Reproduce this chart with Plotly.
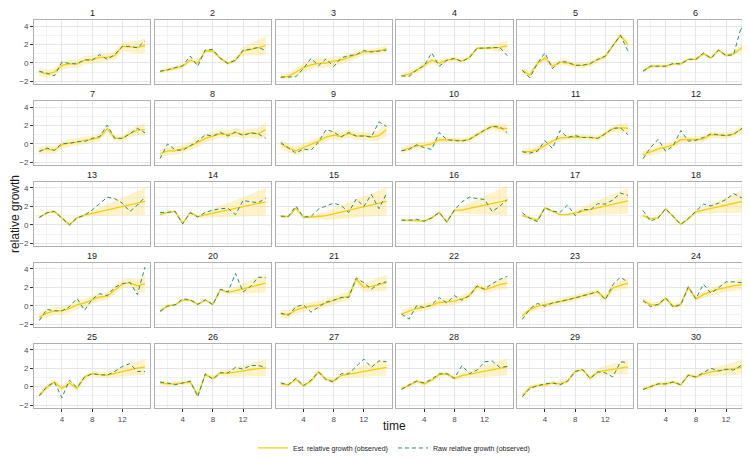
import plotly.graph_objects as go
from plotly.subplots import make_subplots

time = list(range(1, 16))

est_01 = [-0.95,-1.2,-1.0,-0.25,-0.1,-0.1,0.3,0.35,0.6,0.6,0.8,1.8,1.75,1.7,1.9]
raw_01 = [-0.9,-1.1,-1.4,0.1,-0.05,-0.1,0.35,0.3,0.9,0.4,0.9,1.8,1.8,1.65,2.4]
hw_01 = [0.45,0.45,0.45,0.45,0.45,0.45,0.45,0.45,0.45,0.45,0.45,0.5,0.55,0.7,0.8]

est_02 = [-0.9,-0.75,-0.55,-0.35,0.3,0.0,1.3,1.3,0.5,-0.05,0.3,1.3,1.45,1.65,1.9]
raw_02 = [-0.9,-0.75,-0.5,-0.3,0.75,-0.35,1.45,1.45,0.5,-0.05,0.3,1.4,1.5,1.7,1.35]
hw_02 = [0.25,0.25,0.25,0.25,0.25,0.2,0.2,0.2,0.2,0.2,0.25,0.45,0.65,0.85,1.0]

est_03 = [-1.5,-1.45,-1.0,-0.5,-0.2,-0.05,0.0,0.2,0.3,0.6,0.85,1.2,1.25,1.3,1.55]
raw_03 = [-1.55,-1.5,-1.5,-0.6,0.5,-0.3,0.45,-0.4,0.55,0.8,0.9,1.35,1.2,1.3,1.4]
hw_03 = [0.3,0.35,0.45,0.5,0.5,0.5,0.5,0.5,0.45,0.4,0.35,0.3,0.3,0.35,0.4]

est_04 = [-1.4,-1.2,-0.8,-0.25,0.3,0.0,0.3,0.45,0.2,0.6,1.6,1.6,1.65,1.7,1.85]
raw_04 = [-1.4,-1.45,-0.75,-0.3,1.1,-0.35,0.3,0.5,0.15,0.6,1.6,1.6,1.65,1.7,0.8]
hw_04 = [0.25,0.3,0.35,0.35,0.35,0.35,0.3,0.25,0.25,0.25,0.2,0.2,0.3,0.5,0.6]

est_05 = [-0.8,-1.3,-0.05,0.55,-0.35,0.1,0.0,-0.25,-0.25,-0.1,0.35,0.7,1.85,3.0,2.0]
raw_05 = [-0.8,-1.6,-0.05,1.1,-0.6,0.15,0.1,-0.25,-0.25,-0.05,0.4,0.75,1.9,3.0,1.3]
hw_05 = [0.35,0.35,0.3,0.3,0.3,0.3,0.3,0.3,0.3,0.3,0.3,0.3,0.3,0.3,0.4]

est_06 = [-0.9,-0.35,-0.35,-0.35,-0.1,-0.1,0.4,0.4,1.0,0.55,1.4,0.8,1.0,1.6,2.0]
raw_06 = [-0.9,-0.35,-0.35,-0.35,-0.05,-0.1,0.4,0.4,1.1,0.5,1.4,0.8,0.9,3.9,2.0]
hw_06 = [0.2,0.2,0.2,0.2,0.2,0.2,0.2,0.2,0.2,0.2,0.2,0.2,0.25,0.35,0.4]

est_07 = [-0.75,-0.55,-0.7,-0.1,0.1,0.2,0.4,0.5,0.7,1.65,0.6,0.6,1.1,1.5,1.55]
raw_07 = [-0.85,-0.45,-0.7,0.05,0.05,0.25,0.25,0.6,0.8,2.05,0.6,0.6,1.1,1.7,1.2]
hw_07 = [0.4,0.4,0.4,0.4,0.4,0.4,0.4,0.4,0.4,0.35,0.35,0.35,0.4,0.5,0.7]

est_08 = [-1.1,-0.75,-0.75,-0.55,-0.25,0.15,0.6,0.85,1.1,1.0,1.25,1.0,1.2,1.1,1.55]
raw_08 = [-1.6,0.0,-0.65,-0.7,-0.2,0.3,1.0,0.85,1.25,0.85,1.3,0.9,1.2,1.1,0.6]
hw_08 = [0.5,0.45,0.45,0.45,0.45,0.45,0.45,0.45,0.45,0.45,0.45,0.45,0.5,0.6,0.8]

est_09 = [0.0,-0.45,-0.75,-0.4,-0.05,0.3,0.75,0.95,0.8,1.15,0.85,0.9,0.75,0.9,1.55]
raw_09 = [0.15,-0.4,-1.0,-0.55,-0.7,0.2,1.55,1.3,0.75,1.25,0.85,0.85,0.75,2.4,1.9]
hw_09 = [0.45,0.45,0.45,0.45,0.45,0.45,0.45,0.45,0.45,0.45,0.45,0.45,0.45,0.55,0.7]

est_10 = [-0.75,-0.45,-0.2,-0.15,0.0,0.45,0.45,0.4,0.35,0.5,1.0,1.5,1.9,1.7,1.65]
raw_10 = [-0.75,-0.6,-0.1,-0.4,-0.6,1.25,0.45,0.4,0.3,0.5,1.0,1.5,1.9,1.9,1.2]
hw_10 = [0.35,0.35,0.35,0.35,0.35,0.35,0.3,0.3,0.3,0.3,0.3,0.3,0.35,0.45,0.55]

est_11 = [-0.85,-0.85,-0.65,-0.15,0.3,0.65,0.7,0.75,0.7,0.7,0.6,1.1,1.65,1.75,1.7]
raw_11 = [-0.85,-1.0,-0.8,0.35,-0.5,1.45,0.7,0.9,0.7,0.7,0.6,1.1,1.7,1.75,1.0]
hw_11 = [0.35,0.35,0.35,0.35,0.35,0.35,0.3,0.3,0.3,0.3,0.3,0.3,0.35,0.45,0.55]

est_12 = [-1.2,-0.85,-0.55,-0.35,-0.1,0.45,0.5,0.45,0.55,1.0,0.95,0.9,1.05,1.6,1.65]
raw_12 = [-1.6,-0.4,0.5,-0.8,-0.2,1.45,0.3,0.4,0.7,1.1,1.0,0.9,1.05,1.6,2.2]
hw_12 = [0.4,0.4,0.4,0.4,0.4,0.4,0.35,0.35,0.35,0.35,0.35,0.35,0.35,0.4,0.5]

est_13 = [0.8,1.3,1.45,0.75,0.0,0.75,1.05,1.24,1.43,1.61,1.8,1.99,2.18,2.36,2.55]
raw_13 = [0.8,1.3,1.45,0.75,0.0,0.75,1.05,1.6,2.25,3.0,2.85,2.35,1.45,2.15,3.0]
hw_13 = [0.15,0.15,0.15,0.15,0.15,0.15,0.15,0.3,0.45,0.65,0.8,0.95,1.1,1.3,1.5]

est_14 = [1.1,1.35,1.45,0.15,1.35,0.9,1.08,1.26,1.44,1.61,1.79,1.97,2.15,2.32,2.5]
raw_14 = [1.35,1.35,1.45,0.1,1.3,0.85,1.35,1.6,1.75,1.8,1.1,2.65,2.5,2.4,2.9]
hw_14 = [0.2,0.15,0.15,0.15,0.15,0.15,0.3,0.45,0.6,0.75,0.9,1.05,1.2,1.35,1.5]

est_15 = [0.9,0.9,1.8,0.8,0.85,0.95,1.0,1.19,1.39,1.58,1.78,1.97,2.16,2.36,2.55]
raw_15 = [0.95,0.9,2.05,0.85,0.9,1.7,2.05,2.35,2.1,1.35,2.8,2.0,3.3,1.75,3.4]
hw_15 = [0.15,0.15,0.15,0.15,0.15,0.3,0.45,0.6,0.75,0.85,1.0,1.1,1.25,1.4,1.5]

est_16 = [0.5,0.5,0.45,0.4,0.75,1.35,0.3,1.6,1.6,1.78,1.96,2.13,2.3,2.48,2.65]
raw_16 = [0.5,0.5,0.6,0.4,0.75,1.35,0.3,1.6,2.5,3.0,2.85,2.75,1.45,2.0,2.75]
hw_16 = [0.15,0.15,0.15,0.15,0.15,0.15,0.15,0.2,0.4,0.6,0.8,1.0,1.2,1.4,1.6]

est_17 = [1.0,0.75,0.5,1.85,1.45,1.1,1.1,1.29,1.48,1.66,1.85,2.04,2.23,2.41,2.6]
raw_17 = [1.3,0.7,0.35,1.85,1.5,1.35,2.15,1.0,1.7,1.6,2.3,2.25,2.7,3.45,3.2]
hw_17 = [0.15,0.15,0.15,0.15,0.15,0.15,0.15,0.3,0.45,0.6,0.8,0.95,1.1,1.25,1.4]

est_18 = [1.0,0.65,0.75,1.75,0.9,0.05,0.65,1.4,1.6,1.78,1.96,2.14,2.32,2.5,2.7]
raw_18 = [1.55,0.4,0.75,1.75,0.9,0.05,0.7,1.45,2.25,2.05,2.35,2.75,3.4,2.95,3.0]
hw_18 = [0.2,0.2,0.15,0.15,0.15,0.15,0.15,0.2,0.35,0.5,0.7,0.85,1.0,1.2,1.35]

est_19 = [-1.25,-0.8,-0.55,-0.55,-0.3,0.1,0.3,0.65,0.95,1.05,1.7,2.35,2.5,2.15,2.4]
raw_19 = [-1.6,-0.4,-0.55,-0.55,-0.1,0.8,-0.5,0.7,1.3,1.1,2.0,2.4,2.55,1.2,4.2]
hw_19 = [0.45,0.45,0.45,0.45,0.45,0.45,0.45,0.45,0.45,0.45,0.45,0.45,0.5,0.7,0.95]

est_20 = [-0.6,0.0,0.1,0.6,0.6,0.15,0.6,0.15,1.75,1.45,1.65,1.85,2.05,2.25,2.45]
raw_20 = [-0.6,-0.05,0.1,0.75,0.65,0.15,0.65,0.1,1.8,1.5,3.5,1.5,2.1,3.1,3.05]
hw_20 = [0.2,0.15,0.15,0.15,0.15,0.15,0.15,0.15,0.15,0.2,0.4,0.55,0.7,0.85,1.0]

est_21 = [-0.9,-0.95,-0.45,-0.2,-0.05,0.05,0.3,0.6,0.85,1.05,2.85,2.0,2.1,2.3,2.5]
raw_21 = [-0.8,-1.05,-0.1,0.1,-0.7,-0.1,0.4,0.6,0.9,0.9,3.0,2.5,1.8,2.4,2.6]
hw_21 = [0.45,0.45,0.45,0.45,0.45,0.45,0.45,0.45,0.45,0.45,0.45,0.5,0.6,0.75,0.9]

est_22 = [-0.9,-0.6,-0.3,-0.15,0.05,0.35,0.4,0.5,0.75,1.1,2.1,1.75,2.0,2.3,2.45]
raw_22 = [-0.9,-1.45,0.0,-0.2,0.1,0.9,0.3,1.1,0.6,1.1,2.15,1.8,2.4,2.85,3.2]
hw_22 = [0.4,0.4,0.4,0.4,0.4,0.4,0.4,0.4,0.4,0.4,0.4,0.4,0.45,0.55,0.65]

est_23 = [-1.1,-0.45,-0.05,0.1,0.3,0.45,0.65,0.85,1.05,1.3,1.5,0.75,1.95,2.2,2.45]
raw_23 = [-1.5,-0.35,0.25,-0.05,0.3,0.45,0.65,0.85,1.05,1.3,1.55,0.65,2.3,3.1,2.55]
hw_23 = [0.35,0.35,0.35,0.35,0.35,0.35,0.35,0.35,0.35,0.35,0.35,0.35,0.4,0.5,0.55]

est_24 = [0.6,0.1,0.1,0.8,-0.05,0.15,2.0,0.75,1.2,1.55,1.8,2.0,2.15,2.3,2.5]
raw_24 = [0.55,-0.1,0.15,0.85,-0.15,0.1,2.05,0.75,2.35,1.35,1.95,2.6,2.6,2.5,2.9]
hw_24 = [0.3,0.3,0.3,0.3,0.3,0.3,0.3,0.3,0.35,0.4,0.45,0.5,0.55,0.6,0.65]

est_25 = [-0.9,-0.1,0.5,-0.2,0.4,-0.2,1.05,1.4,1.3,1.25,1.45,1.65,1.85,2.0,2.15]
raw_25 = [-1.0,0.0,0.5,-1.2,0.7,-0.1,1.05,1.4,1.3,1.25,1.65,2.2,2.5,1.65,1.65]
hw_25 = [0.3,0.3,0.3,0.3,0.3,0.3,0.3,0.3,0.3,0.35,0.45,0.55,0.65,0.75,0.85]

est_26 = [0.4,0.3,0.3,0.4,0.5,-0.9,1.3,0.9,1.5,1.45,1.6,1.75,1.85,1.95,2.05]
raw_26 = [0.5,0.4,0.2,0.4,0.6,-1.1,1.4,0.8,1.5,1.5,2.1,1.9,2.3,2.3,2.1]
hw_26 = [0.25,0.25,0.25,0.25,0.25,0.25,0.25,0.25,0.3,0.4,0.5,0.6,0.7,0.8,0.9]

est_27 = [0.3,0.2,0.8,0.1,0.6,1.6,0.8,0.6,1.2,1.35,1.5,1.65,1.8,1.95,2.1]
raw_27 = [0.4,0.2,0.9,0.1,0.7,1.6,0.75,0.5,1.4,1.4,2.2,3.0,2.1,2.8,2.7]
hw_27 = [0.25,0.25,0.25,0.25,0.25,0.25,0.25,0.25,0.3,0.4,0.5,0.6,0.7,0.8,0.9]

est_28 = [-0.2,0.1,0.6,0.3,0.7,1.3,1.4,0.9,1.2,1.35,1.5,1.65,1.8,1.95,2.15]
raw_28 = [-0.3,0.2,0.6,0.4,0.8,1.4,1.4,0.9,2.3,1.4,1.8,2.7,2.8,2.1,2.2]
hw_28 = [0.25,0.25,0.25,0.25,0.25,0.25,0.25,0.25,0.3,0.4,0.5,0.6,0.7,0.8,0.9]

est_29 = [-1.0,-0.1,0.1,0.2,0.4,0.3,0.6,1.65,1.85,0.9,1.6,1.75,1.9,2.05,2.15]
raw_29 = [-1.1,-0.2,0.1,0.3,0.4,0.2,0.6,1.65,1.85,0.9,1.6,1.5,1.05,2.7,2.6]
hw_29 = [0.25,0.25,0.25,0.25,0.25,0.25,0.25,0.25,0.25,0.3,0.4,0.5,0.6,0.7,0.8]

est_30 = [-0.3,0.0,0.3,0.3,0.5,0.2,1.25,1.05,1.4,1.6,1.7,1.85,1.95,2.1,2.3]
raw_30 = [-0.3,0.0,0.3,0.3,0.5,0.2,1.25,1.05,1.5,2.0,1.7,1.9,1.8,2.3,3.2]
hw_30 = [0.25,0.25,0.25,0.25,0.25,0.25,0.25,0.25,0.3,0.4,0.5,0.6,0.7,0.8,0.9]

panels = [
    (est_01, raw_01, hw_01), (est_02, raw_02, hw_02), (est_03, raw_03, hw_03),
    (est_04, raw_04, hw_04), (est_05, raw_05, hw_05), (est_06, raw_06, hw_06),
    (est_07, raw_07, hw_07), (est_08, raw_08, hw_08), (est_09, raw_09, hw_09),
    (est_10, raw_10, hw_10), (est_11, raw_11, hw_11), (est_12, raw_12, hw_12),
    (est_13, raw_13, hw_13), (est_14, raw_14, hw_14), (est_15, raw_15, hw_15),
    (est_16, raw_16, hw_16), (est_17, raw_17, hw_17), (est_18, raw_18, hw_18),
    (est_19, raw_19, hw_19), (est_20, raw_20, hw_20), (est_21, raw_21, hw_21),
    (est_22, raw_22, hw_22), (est_23, raw_23, hw_23), (est_24, raw_24, hw_24),
    (est_25, raw_25, hw_25), (est_26, raw_26, hw_26), (est_27, raw_27, hw_27),
    (est_28, raw_28, hw_28), (est_29, raw_29, hw_29), (est_30, raw_30, hw_30),
]
panel_labels = [str(i) for i in range(1, 31)]
x_ticks = [4, 8, 12]
y_ticks = [-2, 0, 2, 4]

EST_COLOR = "#F2CF0E"
RAW_COLOR = "#2E8B6B"
BAND_COLOR = "rgba(250, 222, 110, 0.38)"
GRID = "#e6e6e6"
GRID_MINOR = "#f2f2f2"
BORDER = "#b0b0b0"
FONT = "Liberation Sans, Arial"

W, H = 750, 458
ML, MR, MT, MB = 26, 4, 12, 48
pw = W - ML - MR
ph = H - MT - MB
NROWS, NCOLS = 5, 6

fig = make_subplots(rows=NROWS, cols=NCOLS,
                    horizontal_spacing=4.5 / pw,
                    vertical_spacing=17 / ph)

for i, (est, raw, hw) in enumerate(panels):
    r = i // NCOLS + 1
    c = i % NCOLS + 1
    upper = [e + h for e, h in zip(est, hw)]
    lower = [e - h for e, h in zip(est, hw)]
    fig.add_trace(go.Scatter(x=time + time[::-1], y=upper + lower[::-1],
                             fill="toself", fillcolor=BAND_COLOR,
                             line=dict(width=0), mode="lines",
                             hoverinfo="skip", showlegend=False),
                  row=r, col=c)
    fig.add_trace(go.Scatter(x=time, y=est, mode="lines",
                             line=dict(color=EST_COLOR, width=1.3),
                             name="Est. relative growth (observed)",
                             legendgroup="est", showlegend=(i == 0)),
                  row=r, col=c)
    fig.add_trace(go.Scatter(x=time, y=raw, mode="lines",
                             line=dict(color=RAW_COLOR, width=1, dash="4px,3px"),
                             name="Raw relative growth (observed)",
                             legendgroup="raw", showlegend=(i == 0)),
                  row=r, col=c)

    first_col = (c == 1)
    last_row = (r == NROWS)
    fig.update_xaxes(range=[0.3, 15.7], tickvals=x_ticks,
                     showticklabels=last_row,
                     ticks="outside" if last_row else "", ticklen=3,
                     tickcolor="#333333", tickwidth=0.8,
                     tickfont=dict(size=8, color="#4d4d4d", family=FONT),
                     showgrid=True, gridcolor=GRID, gridwidth=0.8,
                     minor=dict(tickvals=[2, 6, 10, 14], showgrid=True,
                                gridcolor=GRID_MINOR, gridwidth=0.6, ticks=""),
                     showline=True, mirror=True, linecolor=BORDER, linewidth=1,
                     zeroline=False, row=r, col=c)
    fig.update_yaxes(range=[-2.32, 4.67], tickvals=y_ticks,
                     showticklabels=first_col,
                     ticks="outside" if first_col else "", ticklen=3,
                     tickcolor="#333333", tickwidth=0.8,
                     tickfont=dict(size=8, color="#4d4d4d", family=FONT),
                     showgrid=True, gridcolor=GRID, gridwidth=0.8,
                     minor=dict(tickvals=[-1, 1, 3], showgrid=True,
                                gridcolor=GRID_MINOR, gridwidth=0.6, ticks=""),
                     showline=True, mirror=True, linecolor=BORDER, linewidth=1,
                     zeroline=False, row=r, col=c)

    xa = fig.layout["xaxis" if i == 0 else f"xaxis{i+1}"]
    ya = fig.layout["yaxis" if i == 0 else f"yaxis{i+1}"]
    fig.add_annotation(text=panel_labels[i], xref="paper", yref="paper",
                       x=(xa.domain[0] + xa.domain[1]) / 2, y=ya.domain[1],
                       xanchor="center", yanchor="bottom", yshift=0,
                       showarrow=False,
                       font=dict(size=9, color="#1a1a1a", family=FONT))

fig.add_annotation(text="relative growth", xref="paper", yref="paper",
                   x=-19 / pw, y=0.5, textangle=-90, showarrow=False,
                   xanchor="center", yanchor="middle",
                   font=dict(size=12, color="#1a1a1a", family=FONT))
fig.add_annotation(text="time", xref="paper", yref="paper",
                   x=0.5, y=-18 / ph, showarrow=False,
                   xanchor="center", yanchor="middle",
                   font=dict(size=12, color="#1a1a1a", family=FONT))

fig.update_layout(
    width=W, height=H,
    margin=dict(l=ML, r=MR, t=MT, b=MB),
    plot_bgcolor="white", paper_bgcolor="white",
    showlegend=True,
    legend=dict(orientation="h", x=0.5, xanchor="center",
                y=-41 / ph, yanchor="middle",
                font=dict(size=7, color="#1a1a1a", family=FONT),
                itemwidth=30, tracegroupgap=0, bgcolor="rgba(0,0,0,0)"),
)

fig.write_html("out.html")
